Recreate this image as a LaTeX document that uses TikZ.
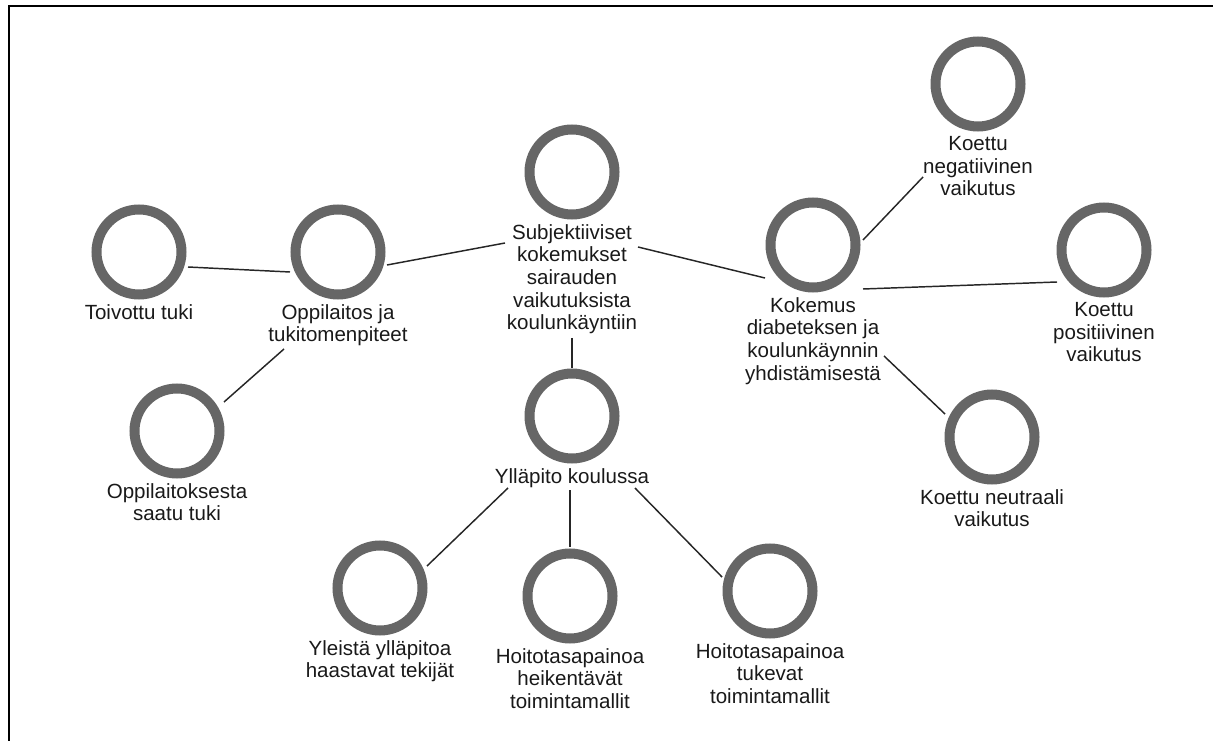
\documentclass[tikz,border=0pt]{standalone}
\usepackage{fontspec}
\setmainfont{Liberation Sans}
\usetikzlibrary{calc}
\definecolor{ringgray}{HTML}{666666}
\begin{document}
\begin{tikzpicture}[x=0.75pt,y=-0.75pt,
  ring/.style={circle,draw=ringgray,line width=7.5pt,minimum size=63.75pt,inner sep=0pt},
  txt/.style={align=center,inner sep=0pt,anchor=north,text=black!90,
    font=\fontsize{15.4pt}{17pt}\selectfont},
  link/.style={line width=1.1pt,black!85}
]
\useasboundingbox (0,0) rectangle (1213,741);
\begin{scope}
  \clip (0,0) rectangle (1213,741);
  \draw[line width=1.5pt,black] (9,6) rectangle (1240,760);
\end{scope}

% concept rings
\node[ring] (c0)  at (572,172) {};
\node[ring] (c1)  at (338,252) {};
\node[ring] (c2)  at (139,252) {};
\node[ring] (c3)  at (177,431) {};
\node[ring] (c4)  at (813,245) {};
\node[ring] (c5)  at (978,84)  {};
\node[ring] (c6)  at (1104,250) {};
\node[ring] (c7)  at (992,437) {};
\node[ring] (c8)  at (572,416) {};
\node[ring] (c9)  at (380,588) {};
\node[ring] (c10) at (570,596) {};
\node[ring] (c11) at (770,591) {};

% captions under the rings
\node[txt] (t0)  at ($(c0)+(0,52)$)  {Subjektiiviset\\kokemukset\\sairauden\\vaikutuksista\\koulunkäyntiin};
\node[txt] (t1)  at ($(c1)+(0,52)$)  {Oppilaitos ja\\tukitomenpiteet};
\node[txt] (t2)  at ($(c2)+(0,52)$)  {Toivottu tuki};
\node[txt] (t3)  at ($(c3)+(0,52)$)  {Oppilaitoksesta\\saatu tuki};
\node[txt] (t4)  at ($(c4)+(0,52)$)  {Kokemus\\diabeteksen ja\\koulunkäynnin\\yhdistämisestä};
\node[txt] (t5)  at ($(c5)+(0,52)$)  {Koettu\\negatiivinen\\vaikutus};
\node[txt] (t6)  at ($(c6)+(0,52)$)  {Koettu\\positiivinen\\vaikutus};
\node[txt] (t7)  at ($(c7)+(0,52)$)  {Koettu neutraali\\vaikutus};
\node[txt] (t8)  at ($(c8)+(0,52)$)  {Ylläpito koulussa};
\node[txt] (t9)  at ($(c9)+(0,52)$)  {Yleistä ylläpitoa\\haastavat tekijät};
\node[txt] (t10) at ($(c10)+(0,52)$) {Hoitotasapainoa\\heikentävät\\toimintamallit};
\node[txt] (t11) at ($(c11)+(0,52)$) {Hoitotasapainoa\\tukevat\\toimintamallit};

% connectors
\draw[link] ($(c2)+(49,15)$)   -- ($(c1)+(-48,20)$);
\draw[link] ($(c1)+(49,13)$)   -- ($(c0)+(-67,71)$);
\draw[link] ($(c0)+(66,75)$)   -- ($(c4)+(-48,33)$);
\draw[link] ($(c4)+(50,-5)$)   -- ($(c5)+(-55,93)$);
\draw[link] ($(c4)+(50,44)$)   -- ($(c6)+(-47,32)$);
\draw[link] ($(c4)+(71,111)$)  -- ($(c7)+(-47,-23)$);
\draw[link] ($(c1)+(-54,97)$)  -- ($(c3)+(47,-29)$);
\draw[link] ($(c0)+(0,166)$)   -- ($(c8)+(0,-48)$);
\draw[link] ($(c8)+(-64,72)$)  -- ($(c9)+(47,-22)$);
\draw[link] ($(c8)+(-2,74)$)   -- ($(c10)+(0,-49)$);
\draw[link] ($(c8)+(63,72)$)   -- ($(c11)+(-48,-14)$);
\end{tikzpicture}
\end{document}
